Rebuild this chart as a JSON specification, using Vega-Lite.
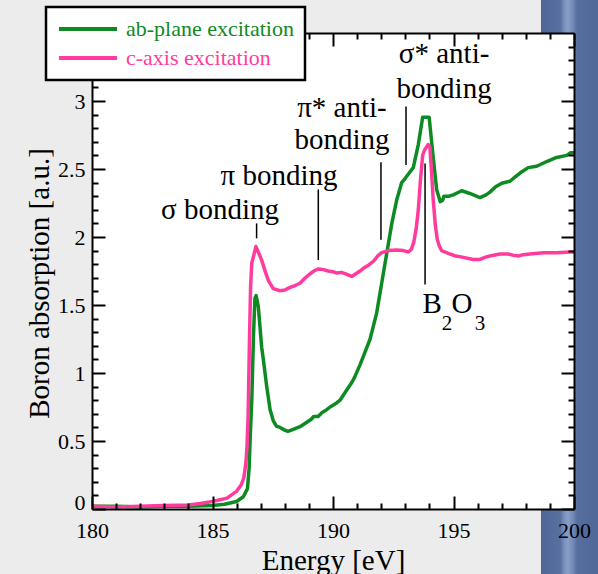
{
  "$schema": "https://vega.github.io/schema/vega-lite/v6.json",
  "width": 482,
  "height": 476,
  "autosize": {"type": "none"},
  "padding": {"left": 92, "top": 33, "right": 24, "bottom": 65},
  "background": "#ececec",
  "view": {"stroke": null, "fill": null},
  "config": {
    "font": "Liberation Serif",
    "axis": {
      "grid": false,
      "domainColor": "black",
      "domainWidth": 2,
      "tickColor": "black",
      "tickWidth": 2,
      "labelFont": "Liberation Serif",
      "labelFontSize": 22,
      "labelColor": "black",
      "titleFont": "Liberation Serif",
      "titleFontSize": 29,
      "titleFontWeight": "normal",
      "titleColor": "black",
      "labelFlush": false,
      "labelOverlap": false,
      "zindex": 1
    }
  },
  "datasets": {
    "spectra": [
      {"series": "ab-plane excitation", "E": 180.0, "absorption": 0.02},
      {"series": "ab-plane excitation", "E": 181.0, "absorption": 0.02},
      {"series": "ab-plane excitation", "E": 182.0, "absorption": 0.015},
      {"series": "ab-plane excitation", "E": 183.0, "absorption": 0.02},
      {"series": "ab-plane excitation", "E": 184.0, "absorption": 0.02},
      {"series": "ab-plane excitation", "E": 185.0, "absorption": 0.025},
      {"series": "ab-plane excitation", "E": 185.5, "absorption": 0.035},
      {"series": "ab-plane excitation", "E": 186.0, "absorption": 0.055},
      {"series": "ab-plane excitation", "E": 186.28, "absorption": 0.09},
      {"series": "ab-plane excitation", "E": 186.45, "absorption": 0.15},
      {"series": "ab-plane excitation", "E": 186.52, "absorption": 0.3},
      {"series": "ab-plane excitation", "E": 186.56, "absorption": 0.51},
      {"series": "ab-plane excitation", "E": 186.63, "absorption": 0.8},
      {"series": "ab-plane excitation", "E": 186.7, "absorption": 1.27},
      {"series": "ab-plane excitation", "E": 186.76, "absorption": 1.55},
      {"series": "ab-plane excitation", "E": 186.81, "absorption": 1.57},
      {"series": "ab-plane excitation", "E": 186.9, "absorption": 1.49},
      {"series": "ab-plane excitation", "E": 187.04, "absorption": 1.19},
      {"series": "ab-plane excitation", "E": 187.11, "absorption": 1.1},
      {"series": "ab-plane excitation", "E": 187.25, "absorption": 0.9},
      {"series": "ab-plane excitation", "E": 187.39, "absorption": 0.73},
      {"series": "ab-plane excitation", "E": 187.52, "absorption": 0.65},
      {"series": "ab-plane excitation", "E": 187.65, "absorption": 0.61},
      {"series": "ab-plane excitation", "E": 187.8, "absorption": 0.6},
      {"series": "ab-plane excitation", "E": 188.0, "absorption": 0.58},
      {"series": "ab-plane excitation", "E": 188.13, "absorption": 0.57},
      {"series": "ab-plane excitation", "E": 188.35, "absorption": 0.585},
      {"series": "ab-plane excitation", "E": 188.63, "absorption": 0.605},
      {"series": "ab-plane excitation", "E": 188.85, "absorption": 0.63},
      {"series": "ab-plane excitation", "E": 189.1, "absorption": 0.66},
      {"series": "ab-plane excitation", "E": 189.2, "absorption": 0.68},
      {"series": "ab-plane excitation", "E": 189.38, "absorption": 0.68},
      {"series": "ab-plane excitation", "E": 189.55, "absorption": 0.71},
      {"series": "ab-plane excitation", "E": 189.74, "absorption": 0.73},
      {"series": "ab-plane excitation", "E": 189.88, "absorption": 0.75},
      {"series": "ab-plane excitation", "E": 190.15, "absorption": 0.78},
      {"series": "ab-plane excitation", "E": 190.29, "absorption": 0.8},
      {"series": "ab-plane excitation", "E": 190.57, "absorption": 0.875},
      {"series": "ab-plane excitation", "E": 190.78, "absorption": 0.93},
      {"series": "ab-plane excitation", "E": 190.9, "absorption": 0.97},
      {"series": "ab-plane excitation", "E": 191.12, "absorption": 1.06},
      {"series": "ab-plane excitation", "E": 191.3, "absorption": 1.14},
      {"series": "ab-plane excitation", "E": 191.54, "absorption": 1.25},
      {"series": "ab-plane excitation", "E": 191.81, "absorption": 1.44},
      {"series": "ab-plane excitation", "E": 192.02, "absorption": 1.66},
      {"series": "ab-plane excitation", "E": 192.23, "absorption": 1.88},
      {"series": "ab-plane excitation", "E": 192.44, "absorption": 2.1},
      {"series": "ab-plane excitation", "E": 192.64, "absorption": 2.27},
      {"series": "ab-plane excitation", "E": 192.85, "absorption": 2.4},
      {"series": "ab-plane excitation", "E": 192.99, "absorption": 2.43},
      {"series": "ab-plane excitation", "E": 193.2, "absorption": 2.48},
      {"series": "ab-plane excitation", "E": 193.33, "absorption": 2.51},
      {"series": "ab-plane excitation", "E": 193.54, "absorption": 2.68},
      {"series": "ab-plane excitation", "E": 193.72, "absorption": 2.88},
      {"series": "ab-plane excitation", "E": 193.99, "absorption": 2.88},
      {"series": "ab-plane excitation", "E": 194.15, "absorption": 2.6},
      {"series": "ab-plane excitation", "E": 194.3, "absorption": 2.35},
      {"series": "ab-plane excitation", "E": 194.45, "absorption": 2.26},
      {"series": "ab-plane excitation", "E": 194.55, "absorption": 2.27},
      {"series": "ab-plane excitation", "E": 194.6, "absorption": 2.3},
      {"series": "ab-plane excitation", "E": 194.8, "absorption": 2.3},
      {"series": "ab-plane excitation", "E": 194.99, "absorption": 2.31},
      {"series": "ab-plane excitation", "E": 195.34, "absorption": 2.34},
      {"series": "ab-plane excitation", "E": 195.68, "absorption": 2.32},
      {"series": "ab-plane excitation", "E": 196.1, "absorption": 2.29},
      {"series": "ab-plane excitation", "E": 196.35, "absorption": 2.31},
      {"series": "ab-plane excitation", "E": 196.51, "absorption": 2.33},
      {"series": "ab-plane excitation", "E": 196.75, "absorption": 2.37},
      {"series": "ab-plane excitation", "E": 197.0, "absorption": 2.395},
      {"series": "ab-plane excitation", "E": 197.34, "absorption": 2.41},
      {"series": "ab-plane excitation", "E": 197.55, "absorption": 2.44},
      {"series": "ab-plane excitation", "E": 197.76, "absorption": 2.47},
      {"series": "ab-plane excitation", "E": 198.1, "absorption": 2.51},
      {"series": "ab-plane excitation", "E": 198.45, "absorption": 2.52},
      {"series": "ab-plane excitation", "E": 198.87, "absorption": 2.555},
      {"series": "ab-plane excitation", "E": 199.28, "absorption": 2.585},
      {"series": "ab-plane excitation", "E": 199.7, "absorption": 2.6},
      {"series": "ab-plane excitation", "E": 199.86, "absorption": 2.62},
      {"series": "ab-plane excitation", "E": 200.0, "absorption": 2.62},
      {"series": "c-axis excitation", "E": 180.0, "absorption": 0.02},
      {"series": "c-axis excitation", "E": 181.0, "absorption": 0.015},
      {"series": "c-axis excitation", "E": 182.0, "absorption": 0.02},
      {"series": "c-axis excitation", "E": 183.0, "absorption": 0.025},
      {"series": "c-axis excitation", "E": 184.0, "absorption": 0.03},
      {"series": "c-axis excitation", "E": 184.5, "absorption": 0.04},
      {"series": "c-axis excitation", "E": 185.0, "absorption": 0.055},
      {"series": "c-axis excitation", "E": 185.6, "absorption": 0.08},
      {"series": "c-axis excitation", "E": 186.0, "absorption": 0.13},
      {"series": "c-axis excitation", "E": 186.2, "absorption": 0.18},
      {"series": "c-axis excitation", "E": 186.3, "absorption": 0.23},
      {"series": "c-axis excitation", "E": 186.38, "absorption": 0.33},
      {"series": "c-axis excitation", "E": 186.43, "absorption": 0.45},
      {"series": "c-axis excitation", "E": 186.48, "absorption": 0.7},
      {"series": "c-axis excitation", "E": 186.53, "absorption": 1.2},
      {"series": "c-axis excitation", "E": 186.58, "absorption": 1.63},
      {"series": "c-axis excitation", "E": 186.63, "absorption": 1.81},
      {"series": "c-axis excitation", "E": 186.72, "absorption": 1.87},
      {"series": "c-axis excitation", "E": 186.8, "absorption": 1.93},
      {"series": "c-axis excitation", "E": 186.9, "absorption": 1.89},
      {"series": "c-axis excitation", "E": 187.04, "absorption": 1.83},
      {"series": "c-axis excitation", "E": 187.2, "absorption": 1.74},
      {"series": "c-axis excitation", "E": 187.32, "absorption": 1.68},
      {"series": "c-axis excitation", "E": 187.52, "absorption": 1.62},
      {"series": "c-axis excitation", "E": 187.8, "absorption": 1.605},
      {"series": "c-axis excitation", "E": 188.0, "absorption": 1.61},
      {"series": "c-axis excitation", "E": 188.22, "absorption": 1.63},
      {"series": "c-axis excitation", "E": 188.45, "absorption": 1.645},
      {"series": "c-axis excitation", "E": 188.63, "absorption": 1.66},
      {"series": "c-axis excitation", "E": 188.85, "absorption": 1.7},
      {"series": "c-axis excitation", "E": 189.05, "absorption": 1.73},
      {"series": "c-axis excitation", "E": 189.25, "absorption": 1.755},
      {"series": "c-axis excitation", "E": 189.4, "absorption": 1.765},
      {"series": "c-axis excitation", "E": 189.6, "absorption": 1.76},
      {"series": "c-axis excitation", "E": 189.8, "absorption": 1.75},
      {"series": "c-axis excitation", "E": 190.0, "absorption": 1.745},
      {"series": "c-axis excitation", "E": 190.15, "absorption": 1.735},
      {"series": "c-axis excitation", "E": 190.35, "absorption": 1.74},
      {"series": "c-axis excitation", "E": 190.5, "absorption": 1.73},
      {"series": "c-axis excitation", "E": 190.78, "absorption": 1.71},
      {"series": "c-axis excitation", "E": 190.95, "absorption": 1.73},
      {"series": "c-axis excitation", "E": 191.12, "absorption": 1.75},
      {"series": "c-axis excitation", "E": 191.26, "absorption": 1.77},
      {"series": "c-axis excitation", "E": 191.45, "absorption": 1.79},
      {"series": "c-axis excitation", "E": 191.67, "absorption": 1.82},
      {"series": "c-axis excitation", "E": 191.85, "absorption": 1.86},
      {"series": "c-axis excitation", "E": 192.02, "absorption": 1.885},
      {"series": "c-axis excitation", "E": 192.3, "absorption": 1.9},
      {"series": "c-axis excitation", "E": 192.64, "absorption": 1.905},
      {"series": "c-axis excitation", "E": 192.92, "absorption": 1.9},
      {"series": "c-axis excitation", "E": 193.13, "absorption": 1.89},
      {"series": "c-axis excitation", "E": 193.25, "absorption": 1.91},
      {"series": "c-axis excitation", "E": 193.35, "absorption": 1.96},
      {"series": "c-axis excitation", "E": 193.45, "absorption": 2.06},
      {"series": "c-axis excitation", "E": 193.54, "absorption": 2.2},
      {"series": "c-axis excitation", "E": 193.62, "absorption": 2.4},
      {"series": "c-axis excitation", "E": 193.72, "absorption": 2.6},
      {"series": "c-axis excitation", "E": 193.8, "absorption": 2.64},
      {"series": "c-axis excitation", "E": 193.95, "absorption": 2.68},
      {"series": "c-axis excitation", "E": 194.02, "absorption": 2.66},
      {"series": "c-axis excitation", "E": 194.1, "absorption": 2.45},
      {"series": "c-axis excitation", "E": 194.16, "absorption": 2.27},
      {"series": "c-axis excitation", "E": 194.25, "absorption": 2.08},
      {"series": "c-axis excitation", "E": 194.33, "absorption": 1.98},
      {"series": "c-axis excitation", "E": 194.42, "absorption": 1.93},
      {"series": "c-axis excitation", "E": 194.51, "absorption": 1.9},
      {"series": "c-axis excitation", "E": 194.85, "absorption": 1.875},
      {"series": "c-axis excitation", "E": 195.1, "absorption": 1.86},
      {"series": "c-axis excitation", "E": 195.41, "absorption": 1.85},
      {"series": "c-axis excitation", "E": 195.82, "absorption": 1.835},
      {"series": "c-axis excitation", "E": 196.1, "absorption": 1.835},
      {"series": "c-axis excitation", "E": 196.3, "absorption": 1.85},
      {"series": "c-axis excitation", "E": 196.51, "absorption": 1.86},
      {"series": "c-axis excitation", "E": 196.93, "absorption": 1.875},
      {"series": "c-axis excitation", "E": 197.27, "absorption": 1.875},
      {"series": "c-axis excitation", "E": 197.5, "absorption": 1.865},
      {"series": "c-axis excitation", "E": 197.69, "absorption": 1.86},
      {"series": "c-axis excitation", "E": 197.9, "absorption": 1.87},
      {"series": "c-axis excitation", "E": 198.17, "absorption": 1.875},
      {"series": "c-axis excitation", "E": 198.73, "absorption": 1.885},
      {"series": "c-axis excitation", "E": 199.28, "absorption": 1.885},
      {"series": "c-axis excitation", "E": 199.83, "absorption": 1.89},
      {"series": "c-axis excitation", "E": 200.0, "absorption": 1.89}
    ],
    "notes": [
      {"E": 185.31, "v": 2.13, "text": "σ bonding"},
      {"E": 187.76, "v": 2.38, "text": "π bonding"},
      {"E": 190.37, "v": 2.88, "text": "π* anti-"},
      {"E": 190.37, "v": 2.65, "text": "bonding"},
      {"E": 194.61, "v": 3.28, "text": "σ* anti-"},
      {"E": 194.61, "v": 3.02, "text": "bonding"},
      {"E": 194.11, "v": 1.44, "text": "B"},
      {"E": 195.35, "v": 1.44, "text": "O"}
    ],
    "subscripts": [
      {"E": 194.73, "v": 1.316, "text": "2"},
      {"E": 196.1, "v": 1.316, "text": "3"}
    ],
    "leaders": [
      {"E": 186.83, "top": 2.1, "bottom": 1.99},
      {"E": 189.39, "top": 2.35, "bottom": 1.83},
      {"E": 191.99, "top": 2.55, "bottom": 1.98},
      {"E": 193.03, "top": 2.96, "bottom": 2.53},
      {"E": 193.82, "top": 2.54, "bottom": 1.65}
    ]
  },
  "resolve": {"axis": {"x": "independent", "y": "independent"}},
  "layer": [
    {
      "data": {"values": [{"part": "slide bar"}]},
      "mark": {
        "type": "rect",
        "fill": {
          "gradient": "linear", "x1": 0, "x2": 1, "y1": 0, "y2": 0,
          "stops": [
            {"offset": 0, "color": "#4f6798"},
            {"offset": 0.3, "color": "#5670a0"},
            {"offset": 0.36, "color": "#7a90bd"},
            {"offset": 0.42, "color": "#889dc7"},
            {"offset": 0.5, "color": "#7389b5"},
            {"offset": 0.56, "color": "#566e9e"},
            {"offset": 1, "color": "#4e6696"}
          ]
        }
      },
      "encoding": {
        "x": {"datum": 198.63, "type": "quantitative", "scale": {"domain": [180, 200], "nice": false, "zero": false}, "axis": null},
        "x2": {"datum": 201.3},
        "y": {"datum": -0.5, "type": "quantitative", "scale": {"domain": [0, 3.5], "nice": false, "zero": false}, "axis": null},
        "y2": {"datum": 3.8}
      }
    },
    {
      "data": {"values": [{"part": "plot background"}]},
      "mark": {"type": "rect", "fill": "white"},
      "encoding": {
        "x": {"datum": 180, "type": "quantitative", "scale": {"domain": [180, 200], "nice": false, "zero": false}, "axis": null},
        "x2": {"datum": 200},
        "y": {"datum": 0, "type": "quantitative", "scale": {"domain": [0, 3.5], "nice": false, "zero": false}, "axis": null},
        "y2": {"datum": 3.5}
      }
    },
    {
      "data": {"name": "spectra"},
      "mark": {"type": "line", "strokeWidth": 3.5, "strokeJoin": "round"},
      "encoding": {
        "x": {
          "field": "E", "type": "quantitative",
          "scale": {"domain": [180, 200], "nice": false, "zero": false},
          "axis": {
            "orient": "bottom", "values": [180, 185, 190, 195, 200], "format": "d", "zindex": 1,
            "tickSize": -13, "labelPadding": 24, "domain": true,
            "title": "Energy [eV]", "titleY": 60, "titleBaseline": "alphabetic"
          }
        },
        "y": {
          "field": "absorption", "type": "quantitative",
          "scale": {"domain": [0, 3.5], "nice": false, "zero": false},
          "axis": {
            "orient": "left", "values": [0, 0.5, 1, 1.5, 2, 2.5, 3], "format": "~g", "zindex": 1,
            "tickSize": -13, "labelPadding": 20, "domain": true,
            "labelBaseline": {"condition": {"test": "datum.value === 0", "value": "alphabetic"}, "value": "middle"},
            "title": "Boron absorption [a.u.]", "titleX": -44, "titleY": 250,
            "titleAngle": -90, "titleBaseline": "alphabetic", "titleAlign": "center"
          }
        },
        "color": {
          "field": "series", "type": "nominal",
          "scale": {"domain": ["ab-plane excitation", "c-axis excitation"], "range": ["#0e8a22", "#ff3b9d"]},
          "legend": {
            "orient": "none", "legendX": -46, "legendY": -26, "title": null,
            "symbolType": "stroke", "symbolSize": 3364, "symbolStrokeWidth": 4,
            "labelFont": "Liberation Serif", "labelFontSize": 22, "labelOffset": 7, "labelLimit": 400,
            "padding": 11, "clipHeight": 22, "rowPadding": 7,
            "fillColor": "white", "strokeColor": "black", "zindex": 2,
            "encode": {
              "labels": {"update": {
                "fill": {"signal": "datum.value === 'ab-plane excitation' ? '#0e8a22' : '#ff3b9d'"}
              }},
              "legend": {"update": {"strokeWidth": {"value": 2.5}}}
            }
          }
        }
      }
    },
    {
      "data": {"name": "leaders"},
      "mark": {"type": "rule", "color": "black", "strokeWidth": 1.5},
      "encoding": {
        "x": {
          "field": "E", "type": "quantitative",
          "scale": {"domain": [180, 200], "nice": false, "zero": false},
          "axis": {"orient": "top", "values": [180, 185, 190, 195, 200], "tickSize": -13, "labels": false, "domain": true, "title": null, "zindex": 1}
        },
        "y": {
          "field": "top", "type": "quantitative",
          "scale": {"domain": [0, 3.5], "nice": false, "zero": false},
          "axis": {"orient": "right", "values": [0, 0.5, 1, 1.5, 2, 2.5, 3], "tickSize": -13, "labels": false, "domain": true, "title": null, "zindex": 1}
        },
        "y2": {"field": "bottom"}
      }
    },
    {
      "data": {"name": "notes"},
      "mark": {"type": "text", "font": "Liberation Serif", "fontSize": 29, "color": "black", "align": "center", "baseline": "alphabetic"},
      "encoding": {
        "x": {
          "field": "E", "type": "quantitative",
          "scale": {"domain": [180, 200], "nice": false, "zero": false},
          "axis": {"orient": "bottom", "values": [181, 182, 183, 184, 186, 187, 188, 189, 191, 192, 193, 194, 196, 197, 198, 199], "tickSize": -6, "labels": false, "domain": false, "title": null, "zindex": 1}
        },
        "y": {
          "field": "v", "type": "quantitative",
          "scale": {"domain": [0, 3.5], "nice": false, "zero": false},
          "axis": {"orient": "left", "values": [0.1, 0.2, 0.3, 0.4, 0.6, 0.7, 0.8, 0.9, 1.1, 1.2, 1.3, 1.4, 1.6, 1.7, 1.8, 1.9, 2.1, 2.2, 2.3, 2.4, 2.6, 2.7, 2.8, 2.9, 3.1, 3.2, 3.3, 3.4], "tickSize": -6, "labels": false, "domain": false, "title": null, "zindex": 1}
        },
        "text": {"field": "text"}
      }
    },
    {
      "data": {"name": "subscripts"},
      "mark": {"type": "text", "font": "Liberation Serif", "fontSize": 21, "color": "black", "align": "center", "baseline": "alphabetic"},
      "encoding": {
        "x": {
          "field": "E", "type": "quantitative",
          "scale": {"domain": [180, 200], "nice": false, "zero": false},
          "axis": {"orient": "top", "values": [181, 182, 183, 184, 186, 187, 188, 189, 191, 192, 193, 194, 196, 197, 198, 199], "tickSize": -6, "labels": false, "domain": false, "title": null, "zindex": 1}
        },
        "y": {
          "field": "v", "type": "quantitative",
          "scale": {"domain": [0, 3.5], "nice": false, "zero": false},
          "axis": {"orient": "right", "values": [0.1, 0.2, 0.3, 0.4, 0.6, 0.7, 0.8, 0.9, 1.1, 1.2, 1.3, 1.4, 1.6, 1.7, 1.8, 1.9, 2.1, 2.2, 2.3, 2.4, 2.6, 2.7, 2.8, 2.9, 3.1, 3.2, 3.3, 3.4], "tickSize": -6, "labels": false, "domain": false, "title": null, "zindex": 1}
        },
        "text": {"field": "text"}
      }
    }
  ]
}
